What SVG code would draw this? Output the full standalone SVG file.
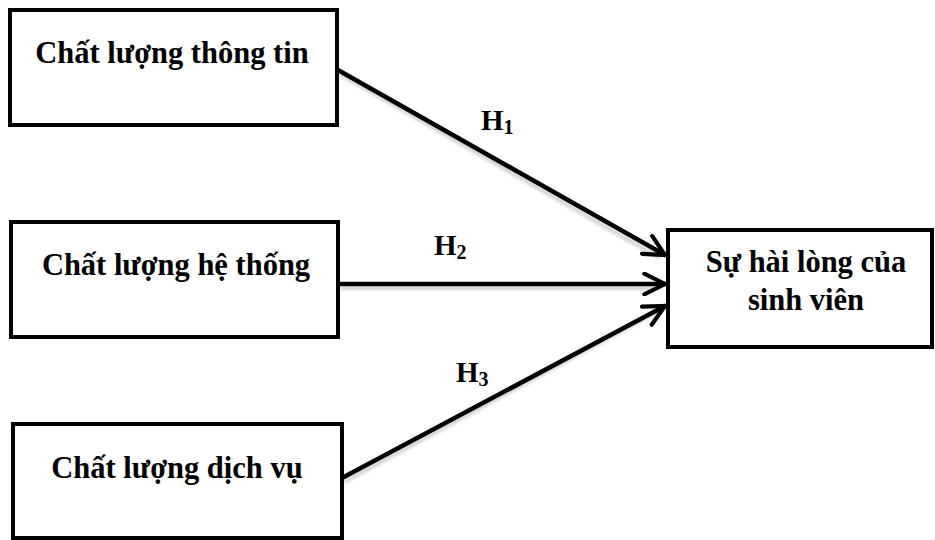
<svg xmlns="http://www.w3.org/2000/svg" width="935" height="540" viewBox="0 0 935 540">
  <style>
    .box { fill: #ffffff; stroke: #000000; stroke-width: 4; }
    .label { font-family: "Liberation Serif", "Times New Roman", serif; font-weight: bold; font-size: 30.5px; fill: #000000; text-anchor: middle; }
    .hyp { font-family: "Liberation Serif", "Times New Roman", serif; font-weight: bold; font-size: 29px; fill: #000000; }
    .sub { font-size: 20px; }
    .edge { fill: none; stroke: #000000; stroke-width: 4.5; stroke-linecap: round; }
    .edge-shadow { fill: none; stroke: #9a9a9a; stroke-width: 4; stroke-opacity: 0.45; }
  </style>
  <defs>
    <marker id="arrow" viewBox="0 0 12 12" refX="11" refY="6" markerWidth="5.5" markerHeight="5.5" markerUnits="strokeWidth" orient="auto">
      <path d="M1,1 L11,6 L1,11" fill="none" stroke="#000000" stroke-width="2" stroke-linecap="round" stroke-linejoin="miter"/>
    </marker>
    <filter id="soft" x="-10%" y="-10%" width="120%" height="120%">
      <feGaussianBlur stdDeviation="1.5"/>
    </filter>
  </defs>

  <rect width="935" height="540" fill="#ffffff"/>

  <!-- connectors -->
  <g id="connectors">
    <g filter="url(#soft)">
      <line class="edge-shadow" x1="340" y1="74" x2="660" y2="258"/>
      <line class="edge-shadow" x1="340" y1="288" x2="660" y2="288"/>
      <line class="edge-shadow" x1="344" y1="482" x2="660" y2="310"/>
    </g>
    <line class="edge" x1="338" y1="70" x2="665" y2="255" marker-end="url(#arrow)"/>
    <line class="edge" x1="340" y1="284" x2="665" y2="284" marker-end="url(#arrow)"/>
    <line class="edge" x1="342" y1="478" x2="665" y2="306" marker-end="url(#arrow)"/>
    <text class="hyp" x="481" y="130">H<tspan class="sub" dy="4">1</tspan></text>
    <text class="hyp" x="434" y="255">H<tspan class="sub" dy="4">2</tspan></text>
    <text class="hyp" x="456" y="382">H<tspan class="sub" dy="4">3</tspan></text>
  </g>

  <g id="node-info">
    <rect class="box" x="10" y="10" width="327" height="115"/>
    <text class="label" x="172" y="63">Chất lượng thông tin</text>
  </g>

  <g id="node-system">
    <rect class="box" x="11" y="222" width="327" height="115"/>
    <text class="label" x="176" y="275">Chất lượng hệ thống</text>
  </g>

  <g id="node-service">
    <rect class="box" x="13" y="424" width="329" height="114"/>
    <text class="label" x="177" y="478">Chất lượng dịch vụ</text>
  </g>

  <g id="node-satisfaction">
    <rect class="box" x="668" y="230" width="264" height="117"/>
    <text class="label" x="806" y="272">Sự hài lòng của</text>
    <text class="label" x="806" y="310">sinh viên</text>
  </g>
</svg>
